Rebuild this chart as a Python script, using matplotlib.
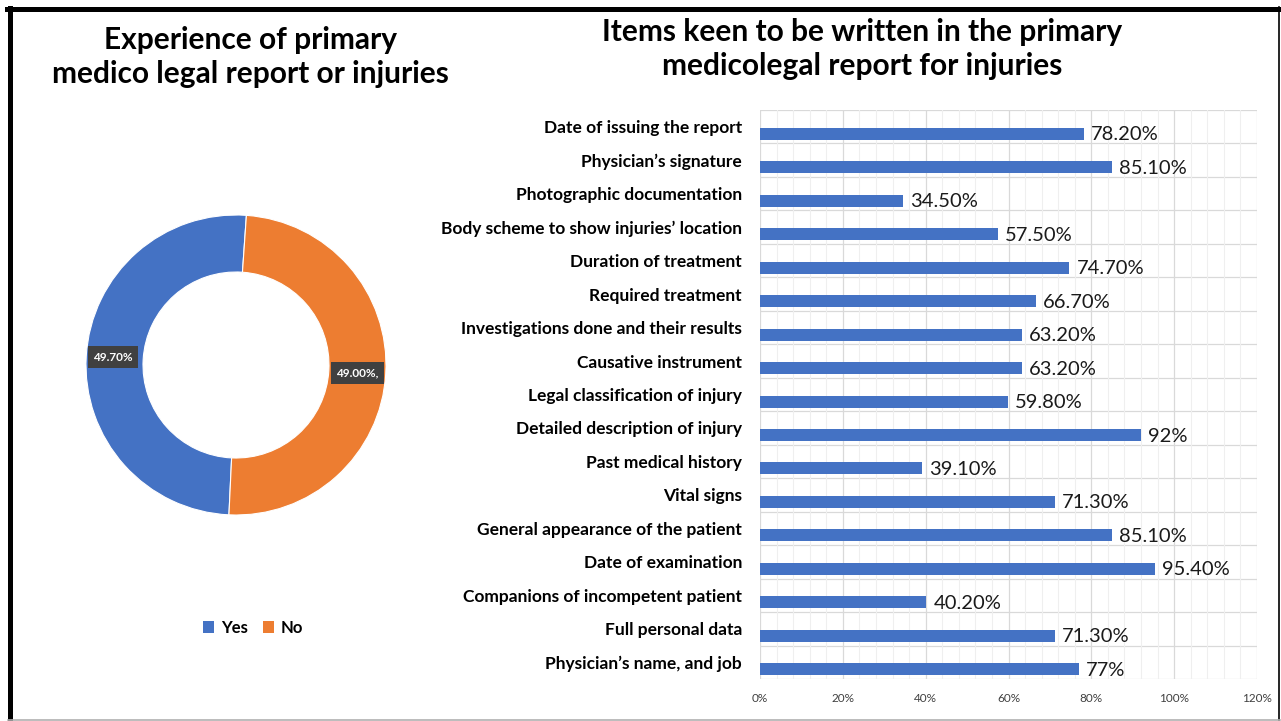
import matplotlib
matplotlib.use("Agg")
import matplotlib.pyplot as plt
from matplotlib.ticker import MultipleLocator, FuncFormatter
from matplotlib.patches import Patch

plt.rcParams['font.family'] = ['Lato', 'DejaVu Sans']

# donut data
donut_labels = ["Yes", "No"]
donut_vals = [49.7, 49.0]
donut_text = ["49.70%", "49.00%,"]

# bar data (top to bottom)
items = ["Date of issuing the report", "Physician’s signature", "Photographic documentation",
         "Body scheme to show injuries’ location", "Duration of treatment", "Required treatment",
         "Investigations done and their results", "Causative instrument",
         "Legal classification of injury", "Detailed description of injury",
         "Past medical history", "Vital signs", "General appearance of the patient",
         "Date of examination", "Companions of incompetent patient", "Full personal data",
         "Physician’s name, and job"]
item_vals = [78.2, 85.1, 34.5, 57.5, 74.7, 66.7, 63.2, 63.2, 59.8, 92, 39.1, 71.3, 85.1,
             95.4, 40.2, 71.3, 77]
item_text = ["78.20%", "85.10%", "34.50%", "57.50%", "74.70%", "66.70%", "63.20%", "63.20%",
             "59.80%", "92%", "39.10%", "71.30%", "85.10%", "95.40%", "40.20%", "71.30%", "77%"]

BLUE = "#4472C4"
ORANGE = "#ED7D31"
W, H = 1281, 721

fig = plt.figure(figsize=(W / 100, H / 100), dpi=100)

def px_axes(x0, y0, x1, y1):
    return fig.add_axes([x0 / W, 1 - y1 / H, (x1 - x0) / W, (y1 - y0) / H])

# frame around the picture
frame = fig.add_axes([0, 0, 1, 1])
frame.set_xlim(0, W)
frame.set_ylim(H, 0)
frame.axis("off")
frame.plot([9.5, 9.5], [8, H - 1], color="black", lw=3.6)
frame.plot([7, 1280], [8.5, 8.5], color="black", lw=3.6)
frame.plot([1279, 1279], [7, H - 1], color="black", lw=1.2)
frame.plot([8, 1280], [720, 720], color="#b0b0b0", lw=1.2)

# titles
fig.text(250 / W, 1 - 57 / H, "Experience of primary\nmedico legal report or injuries",
         ha="center", va="center", fontsize=21.5, fontweight="bold", linespacing=1.3)
fig.text(862 / W, 1 - 49 / H, "Items keen to be written in the primary\nmedicolegal report for injuries",
         ha="center", va="center", fontsize=21.5, fontweight="bold", linespacing=1.3)

# donut
ax1 = px_axes(86, 215, 386, 515)
wedges, _ = ax1.pie(donut_vals, colors=[BLUE, ORANGE], startangle=-92.7, counterclock=False,
                    radius=1, wedgeprops=dict(width=0.38, edgecolor="white", linewidth=0.8))
ax1.set_xlim(-1, 1)
ax1.set_ylim(-1, 1)
ax1.set_aspect("equal")
for (x, y), t in zip([(-0.82, 0.053), (0.807, -0.053)], donut_text):
    ax1.text(x, y, t, ha="center", va="center", color="white", fontsize=8.5, fontweight="bold",
             bbox=dict(boxstyle="square,pad=0.45", facecolor="#404040", edgecolor="none"))

handles = [Patch(facecolor=c, edgecolor="none") for c in [BLUE, ORANGE]]
fig.legend(handles, donut_labels, loc="center", bbox_to_anchor=(253 / W, 1 - 628 / H), ncol=2,
           frameon=False, prop=dict(weight="bold", size=12), handlelength=0.7, handleheight=0.7,
           handletextpad=0.4, columnspacing=0.9)

# bars
ax2 = px_axes(760, 110, 1257, 679)
pos = list(range(len(items)))
ax2.barh([p + 0.21 for p in pos], item_vals, height=0.36, color=BLUE, zorder=3)
for p, v, t in zip(pos, item_vals, item_text):
    ax2.text(v + 1.7, p + 0.24, t, ha="left", va="center", fontsize=14.5, color="#1a1a1a")
ax2.set_xlim(0, 120)
ax2.set_ylim(len(items) - 0.5, -0.5)
ax2.set_yticks(pos)
ax2.set_yticklabels(items, fontsize=12.5, fontweight="bold")
ax2.tick_params(axis="y", length=0, pad=13)
ax2.xaxis.set_major_locator(MultipleLocator(20))
ax2.xaxis.set_minor_locator(MultipleLocator(4))
ax2.xaxis.set_major_formatter(FuncFormatter(lambda v, _: f"{v:.0f}%"))
ax2.tick_params(axis="x", which="both", length=0, labelsize=8.5, labelcolor="#404040", pad=10)
ax2.grid(axis="x", which="major", color="#d9d9d9", lw=0.9, zorder=0)
ax2.grid(axis="x", which="minor", color="#efefef", lw=0.8, zorder=0)
for b in range(len(items) + 1):
    ax2.axhline(b - 0.5, color="#d9d9d9", lw=0.9, zorder=1)
for s in ax2.spines.values():
    s.set_visible(False)

fig.savefig("out.png", dpi=100)
